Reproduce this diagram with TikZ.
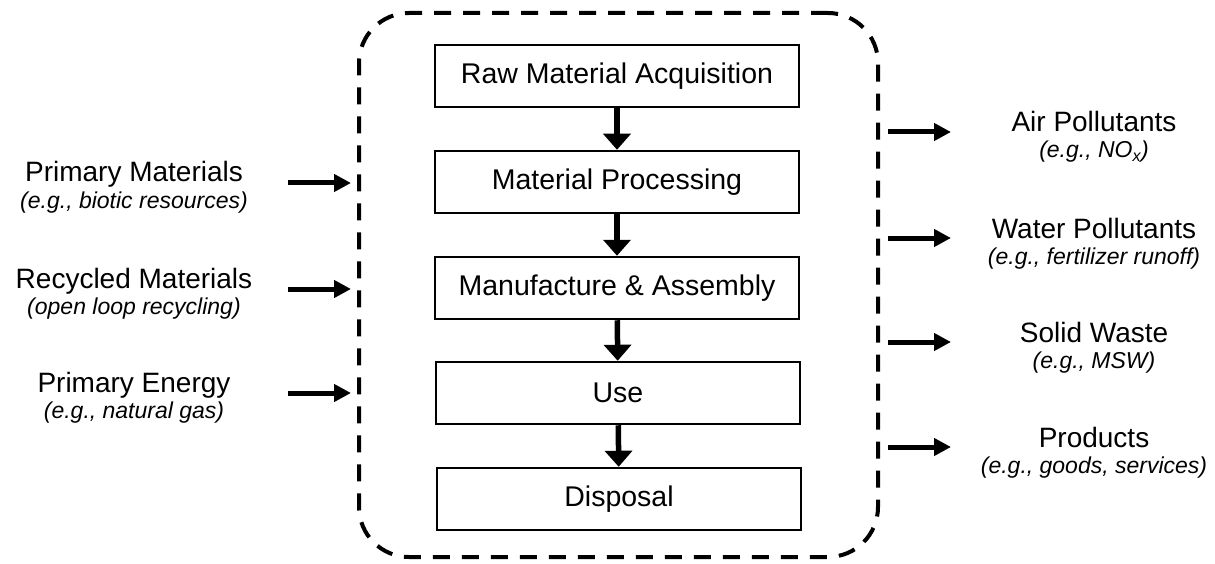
\documentclass[tikz,border=0pt]{standalone}
\usepackage{fontspec}
\setmainfont{Liberation Sans}
\usetikzlibrary{arrows.meta}
\begin{document}
\begin{tikzpicture}[x=1pt,y=-1pt,
  stage/.style={draw, line width=2.5pt, minimum width=364pt, minimum height=62pt, inner sep=0pt, font=\fontsize{28.5}{32}\selectfont},
  flowarrow/.style={line width=5.5pt, -{Triangle[length=16pt,width=27pt]}},
  sidearrow/.style={line width=5pt, -{Triangle[length=17pt,width=17pt]}},
  mainlab/.style={anchor=base, inner sep=0pt, font=\fontsize{28}{30}\selectfont},
  sublab/.style={anchor=base, inner sep=0pt, font=\fontsize{23}{26}\selectfont\itshape},
  sysbox/.style={draw, line width=4pt, dash pattern=on 17pt off 12pt, rounded corners=50pt, minimum width=519pt, minimum height=544pt, inner sep=0pt}]
\useasboundingbox (0,0) rectangle (1215,564);

% system boundary
\node[sysbox] (sys) at (618.5,285) {};

% life-cycle stages
\node[stage] (raw) at (617,76)  {Raw Material Acquisition};
\node[stage] (mp)  at (617,182) {Material Processing};
\node[stage] (ma)  at (617,288) {Manufacture \& Assembly};
\node[stage] (use) at (618,393) {Use};
\node[stage] (dis) at (619,499) {Disposal};

\draw[flowarrow] (raw) -- (mp);
\draw[flowarrow] (mp) -- (ma);
\draw[flowarrow] (ma) -- (use);
\draw[flowarrow] (use) -- (dis);

% inputs
\node[mainlab] (pm)  at (134,182) {Primary Materials};
\node[sublab]  (pms) at (134,208) {(e.g., biotic resources)};
\node[mainlab] (rm)  at (134,288) {Recycled Materials};
\node[sublab]  (rms) at (134,314) {(open loop recycling)};
\node[mainlab] (pe)  at (134,392) {Primary Energy};
\node[sublab]  (pes) at (134,418) {(e.g., natural gas)};

\coordinate (i1s) at (288,183); \coordinate (i1e) at (351,183);
\coordinate (i2s) at (288,289); \coordinate (i2e) at (351,289);
\coordinate (i3s) at (288,393); \coordinate (i3e) at (351,393);
\draw[sidearrow] (i1s) -- (i1e);
\draw[sidearrow] (i2s) -- (i2e);
\draw[sidearrow] (i3s) -- (i3e);

% outputs
\node[mainlab] (ap)  at (1094,132) {Air Pollutants};
\node[sublab]  (aps) at (1094,158) {(e.g., NO\textsubscript{x})};
\node[mainlab] (wp)  at (1094,238) {Water Pollutants};
\node[sublab]  (wps) at (1094,264) {(e.g., fertilizer runoff)};
\node[mainlab] (sw)  at (1094,342) {Solid Waste};
\node[sublab]  (sws) at (1094,368) {(e.g., MSW)};
\node[mainlab] (pr)  at (1094,447) {Products};
\node[sublab]  (prs) at (1094,473) {(e.g., goods, services)};

\coordinate (o1s) at (888,132); \coordinate (o1e) at (951,132);
\coordinate (o2s) at (888,238); \coordinate (o2e) at (951,238);
\coordinate (o3s) at (888,342); \coordinate (o3e) at (951,342);
\coordinate (o4s) at (888,447); \coordinate (o4e) at (951,447);
\draw[sidearrow] (o1s) -- (o1e);
\draw[sidearrow] (o2s) -- (o2e);
\draw[sidearrow] (o3s) -- (o3e);
\draw[sidearrow] (o4s) -- (o4e);
\end{tikzpicture}
\end{document}
